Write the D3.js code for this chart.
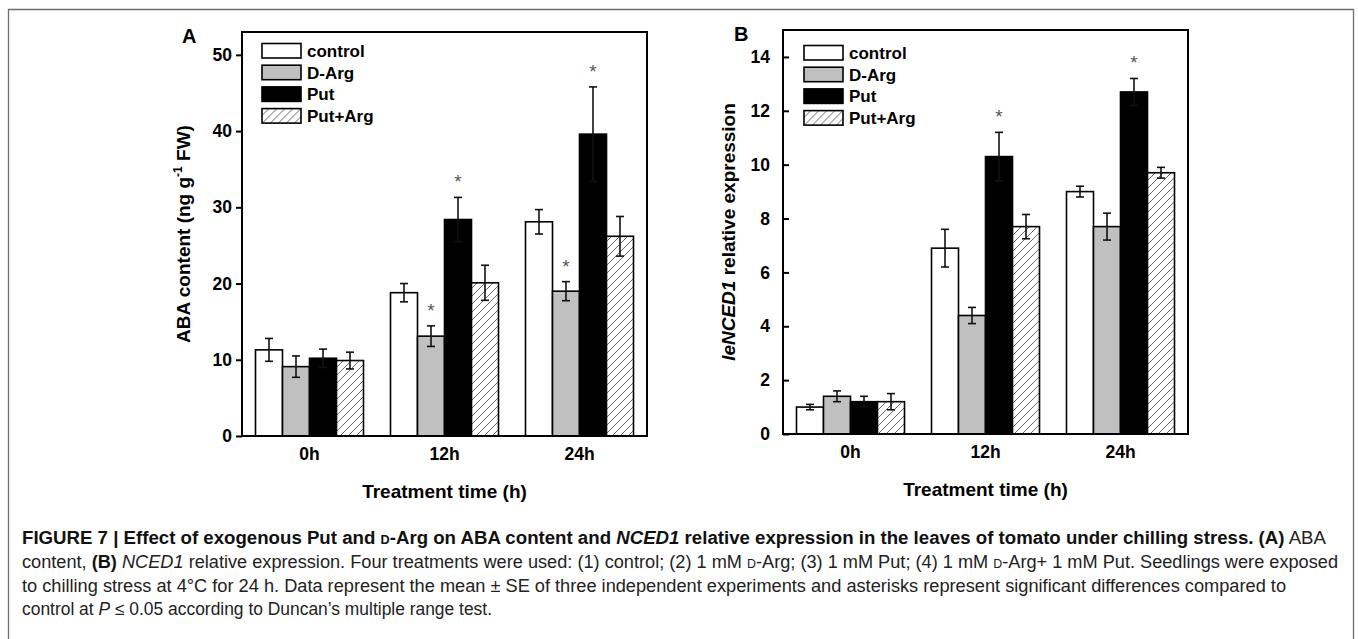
<!DOCTYPE html>
<html>
<head>
<meta charset="utf-8">
<script src="https://cdn.jsdelivr.net/npm/d3@7"></script>
<style>
  html, body { margin: 0; padding: 0; background: #fff; }
  svg { display: block; }
  .bold { font-family: "Liberation Sans", Arial, sans-serif; font-weight: bold; }
  .cap { font-family: "Liberation Sans", Arial, sans-serif; }
</style>
</head>
<body>
<svg id="chart" width="1358" height="639"></svg>
<script>
// ---------------- DATA ----------------
const times = ["0h", "12h", "24h"];
const treatments = ["control", "D-Arg", "Put", "Put+Arg"];

// Panel A: ABA content (ng g-1 FW)
const abaControl   = [11.3, 18.8, 28.1];
const abaControlSE = [1.5, 1.2, 1.6];
const abaDArg      = [9.1, 13.1, 19.0];
const abaDArgSE    = [1.4, 1.35, 1.25];
const abaPut       = [10.2, 28.4, 39.6];
const abaPutSE     = [1.2, 2.9, 6.2];
const abaPutArg    = [9.9, 20.1, 26.2];
const abaPutArgSE  = [1.1, 2.3, 2.6];
const abaSig = [[0,0,0],[0,1,1],[0,1,1],[0,0,0]]; // per treatment, per time

// Panel B: leNCED1 relative expression
const ncedControl   = [1.0, 6.9, 9.0];
const ncedControlSE = [0.1, 0.7, 0.2];
const ncedDArg      = [1.4, 4.4, 7.7];
const ncedDArgSE    = [0.2, 0.3, 0.5];
const ncedPut       = [1.2, 10.3, 12.7];
const ncedPutSE     = [0.2, 0.9, 0.5];
const ncedPutArg    = [1.2, 7.7, 9.7];
const ncedPutArgSE  = [0.3, 0.45, 0.2];
const ncedSig = [[0,0,0],[0,0,0],[0,1,1],[0,0,0]];

const abaTicks  = [0, 10, 20, 30, 40, 50];
const ncedTicks = [0, 2, 4, 6, 8, 10, 12, 14];

// ---------------- DRAW ----------------
const svg = d3.select("#chart");
svg.append("rect").attr("width", 1358).attr("height", 639).attr("fill", "#fff");

// outer figure frame
svg.append("path")
  .attr("d", "M8.5,660 L8.5,9.5 L1353.5,9.5 L1353.5,660")
  .attr("fill", "none").attr("stroke", "#6e6e6e").attr("stroke-width", 1.3);

const defs = svg.append("defs");
const pat = defs.append("pattern").attr("id", "hatch")
  .attr("patternUnits", "userSpaceOnUse").attr("width", 8).attr("height", 8);
pat.append("rect").attr("width", 8).attr("height", 8).attr("fill", "#fff");
pat.append("path").attr("d", "M-2,2 L2,-2 M0,8 L8,0 M6,10 L10,6")
  .attr("stroke", "#444").attr("stroke-width", 0.8);

const fills = ["#ffffff", "#c0c0c0", "#000000", "url(#hatch)"];

function drawPanel(o) {
  const g = svg.append("g");
  const x0 = d3.scaleBand().domain(times).range([o.left, o.right])
    .paddingInner(0.2).paddingOuter(0.1);
  const x1 = d3.scaleBand().domain(treatments).range([0, x0.bandwidth()]);
  const y = d3.scaleLinear().domain([0, o.yMax]).range([o.bottom, o.top]);

  // bars
  treatments.forEach((t, ti) => {
    const vals = o.means[ti], ses = o.ses[ti];
    times.forEach((tm, i) => {
      const bx = x0(tm) + x1(t);
      g.append("rect")
        .attr("x", bx).attr("y", y(vals[i]))
        .attr("width", x1.bandwidth()).attr("height", y(0) - y(vals[i]))
        .attr("fill", fills[ti]).attr("stroke", "#000").attr("stroke-width", 1.6);
      const cx = bx + x1.bandwidth() / 2;
      const hi = y(vals[i] + ses[i]), lo = y(vals[i] - ses[i]);
      const eb = g.append("g").attr("stroke", "#111").attr("stroke-width", 1.6);
      eb.append("line").attr("x1", cx).attr("x2", cx).attr("y1", hi).attr("y2", lo);
      eb.append("line").attr("x1", cx - 4).attr("x2", cx + 4).attr("y1", hi).attr("y2", hi);
      eb.append("line").attr("x1", cx - 4).attr("x2", cx + 4).attr("y1", lo).attr("y2", lo);
      if (o.sig[ti][i]) {
        g.append("text").attr("class", "cap")
          .attr("x", cx).attr("y", hi - 9)
          .attr("text-anchor", "middle").attr("font-size", 19)
          .attr("fill", "#555").text("*");
      }
    });
  });

  // frame
  g.append("rect").attr("x", o.left).attr("y", o.top)
    .attr("width", o.right - o.left).attr("height", o.bottom - o.top)
    .attr("fill", "none").attr("stroke", "#000").attr("stroke-width", 2);

  // y axis
  const yAxis = d3.axisLeft(y).tickValues(o.ticks)
    .tickSize(o.tickInward ? -6 : 6)
    .tickPadding(o.tickInward ? 13 : 4);
  const ya = g.append("g").attr("transform", `translate(${o.left},0)`).call(yAxis);
  ya.select(".domain").remove();
  ya.selectAll(".tick line").attr("stroke", "#000").attr("stroke-width", 2);
  ya.selectAll(".tick text").attr("class", "bold").attr("font-size", 17.5).attr("fill", "#000");

  // x axis labels
  const xAxis = d3.axisBottom(x0).tickSize(0).tickPadding(12);
  const xa = g.append("g").attr("transform", `translate(0,${o.bottom})`).call(xAxis);
  xa.select(".domain").remove();
  xa.selectAll(".tick text").attr("class", "bold").attr("font-size", 17.5).attr("fill", "#000");

  // x title
  g.append("text").attr("class", "bold").attr("font-size", 19)
    .attr("x", (o.left + o.right) / 2).attr("y", o.bottom + 62)
    .attr("text-anchor", "middle").text("Treatment time (h)");

  // y title
  const yt = g.append("text").attr("class", "bold").attr("font-size", 19)
    .attr("text-anchor", "middle")
    .attr("transform", `translate(${o.yTitleX},${(o.top + o.bottom) / 2}) rotate(-90)`);
  o.yTitle(yt);

  // panel letter
  g.append("text").attr("class", "bold").attr("font-size", 20)
    .attr("x", o.letterX).attr("y", o.top + 11).text(o.letter);

  // legend
  const lg = g.append("g").attr("transform", `translate(${o.left + o.legDx},${o.top + o.legDy})`);
  treatments.forEach((t, ti) => {
    lg.append("rect").attr("x", 0).attr("y", ti * 21.7)
      .attr("width", 39).attr("height", 14.5)
      .attr("fill", fills[ti]).attr("stroke", "#000").attr("stroke-width", 1.6);
    lg.append("text").attr("class", "bold").attr("font-size", 17)
      .attr("x", 45).attr("y", ti * 21.7 + 13.5).text(t);
  });
}

drawPanel({
  left: 242, right: 647, top: 32, bottom: 436, yMax: 53,
  ticks: abaTicks, tickInward: false,
  means: [abaControl, abaDArg, abaPut, abaPutArg],
  ses: [abaControlSE, abaDArgSE, abaPutSE, abaPutArgSE],
  sig: abaSig,
  yTitleX: 190, letter: "A", letterX: 182, legDx: 20, legDy: 11.5,
  yTitle: t => {
    t.append("tspan").text("ABA content (ng g");
    t.append("tspan").attr("font-size", 12).attr("dy", -8).text("-1");
    t.append("tspan").attr("dy", 8).text(" FW)");
  }
});

drawPanel({
  left: 783, right: 1188, top: 30, bottom: 434, yMax: 15,
  ticks: ncedTicks, tickInward: true,
  means: [ncedControl, ncedDArg, ncedPut, ncedPutArg],
  ses: [ncedControlSE, ncedDArgSE, ncedPutSE, ncedPutArgSE],
  sig: ncedSig,
  yTitleX: 735, letter: "B", letterX: 734, legDx: 21, legDy: 15.5,
  yTitle: t => {
    t.append("tspan").attr("font-style", "italic").text("leNCED1");
    t.append("tspan").text(" relative expression");
  }
});

// ---------------- CAPTION ----------------
const capLines = [
  { y: 544, len: 1304, parts: [
    ["b", "FIGURE 7 | Effect of exogenous Put and "], ["bsc", "d"], ["b", "-Arg on ABA content and "],
    ["bi", "NCED1"], ["b", " relative expression in the leaves of tomato under chilling stress. (A)"], ["r", " ABA"]] },
  { y: 568, len: 1316, parts: [
    ["r", "content, "], ["b", "(B)"], ["r", " "], ["i", "NCED1"],
    ["r", " relative expression. Four treatments were used: (1) control; (2) 1 mM "], ["sc", "d"],
    ["r", "-Arg; (3) 1 mM Put; (4) 1 mM "], ["sc", "d"], ["r", "-Arg+ 1 mM Put. Seedlings were exposed"]] },
  { y: 592, len: 1264, parts: [
    ["r", "to chilling stress at 4°C for 24 h. Data represent the mean \u00B1 SE of three independent experiments and asterisks represent significant differences compared to"]] },
  { y: 615, len: 470, parts: [
    ["r", "control at "], ["i", "P"], ["r", " \u2264 0.05 according to Duncan\u2019s multiple range test."]] }
];
capLines.forEach(line => {
  const t = svg.append("text").attr("class", "cap").attr("x", 22).attr("y", line.y)
    .attr("font-size", 17.5).attr("fill", "#222")
    .attr("textLength", line.len).attr("lengthAdjust", "spacingAndGlyphs");
  line.parts.forEach(([s, txt]) => {
    const ts = t.append("tspan").text(txt);
    if (s[0] === "b") ts.attr("font-weight", "bold").attr("fill", "#111");
    if (s.includes("i")) ts.attr("font-style", "italic");
    if (s.includes("sc")) ts.style("font-variant", "small-caps");
  });
});
</script>
</body>
</html>
